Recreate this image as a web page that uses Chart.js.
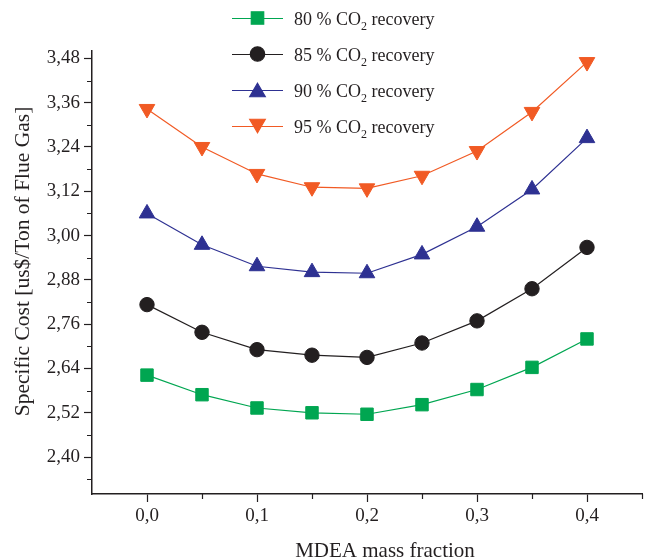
<!DOCTYPE html>
<html>
<head>
<meta charset="utf-8">
<script src="https://cdn.jsdelivr.net/npm/chart.js@4.4.1/dist/chart.umd.min.js"></script>
<style>
    html, body { margin: 0; padding: 0; background: #fff; }
    #wrap { width: 649px; height: 558px; }
</style>
</head>
<body>
<div id="wrap"><canvas id="myChart"></canvas></div>
<script>
// MDEA mass fraction (x) and specific cost per CO2 recovery level
const mdeaFraction = [0.0, 0.05, 0.1, 0.15, 0.2, 0.25, 0.3, 0.35, 0.4];
const recovery80 = [2.622, 2.569, 2.533, 2.520, 2.516, 2.542, 2.583, 2.643, 2.720];
const recovery85 = [2.813, 2.738, 2.691, 2.676, 2.670, 2.709, 2.769, 2.856, 2.968];
const recovery90 = [3.060, 2.975, 2.917, 2.901, 2.898, 2.949, 3.024, 3.125, 3.264];
const recovery95 = [3.343, 3.240, 3.167, 3.131, 3.128, 3.162, 3.229, 3.335, 3.470];
const seriesLabels = ['80 % CO₂ recovery', '85 % CO₂ recovery', '90 % CO₂ recovery', '95 % CO₂ recovery'];

// tick labels
const xMajorTicks = [0.0, 0.1, 0.2, 0.3, 0.4];
const xMinorTicks = [0.05, 0.15, 0.25, 0.35, 0.45];
const yMajorTicks = [2.40, 2.52, 2.64, 2.76, 2.88, 3.00, 3.12, 3.24, 3.36, 3.48];
const yMinorTicks = [2.34, 2.46, 2.58, 2.70, 2.82, 2.94, 3.06, 3.18, 3.30, 3.42];

const xTitle = 'MDEA mass fraction';
const yTitle = 'Specific Cost [us$/Ton of Flue Gas]';

const FONT = '"Liberation Serif", "Times New Roman", serif';
const INK = '#231f20';

function toPoints(values) {
    return mdeaFraction.map((x, i) => ({ x: x, y: values[i] }));
}
function commaNum(v, digits) {
    return v.toFixed(digits).replace('.', ',');
}

// minor tick marks (shorter than the major ones)
const minorTicksPlugin = {
    id: 'minorTicks',
    afterDraw(chart) {
        const ctx = chart.ctx;
        const xs = chart.scales.x;
        const ys = chart.scales.y;
        const area = chart.chartArea;
        ctx.save();
        ctx.strokeStyle = INK;
        ctx.lineWidth = 1.2;
        ctx.beginPath();
        xMinorTicks.forEach(v => {
            const px = Math.round(xs.getPixelForValue(v)) + 0.5;
            ctx.moveTo(px, area.bottom);
            ctx.lineTo(px, area.bottom + 5);
        });
        yMinorTicks.forEach(v => {
            const py = Math.round(ys.getPixelForValue(v)) + 0.5;
            ctx.moveTo(area.left, py);
            ctx.lineTo(area.left - 5, py);
        });
        ctx.stroke();
        ctx.restore();
    }
};

// axis titles, placed a bit off-centre like in the original figure
const axisTitlesPlugin = {
    id: 'axisTitles',
    afterDraw(chart) {
        const ctx = chart.ctx;
        const area = chart.chartArea;
        ctx.save();
        ctx.fillStyle = INK;
        ctx.font = '21px ' + FONT;
        ctx.textAlign = 'center';
        ctx.textBaseline = 'alphabetic';
        ctx.fillText(xTitle, (area.left + area.right) / 2 + 18, chart.height - 1);

        ctx.translate(29, (area.top + area.bottom) / 2 - 11);
        ctx.rotate(-Math.PI / 2);
        ctx.font = '21.5px ' + FONT;
        ctx.fillText(yTitle, 0, 0);
        ctx.restore();
    }
};

// legend stacked at the top centre, with subscript in CO2
const legendPlugin = {
    id: 'stackedLegend',
    afterDraw(chart) {
        const ctx = chart.ctx;
        const lineX0 = 232, lineX1 = 283, textX = 294;
        const top = 18, step = 36;
        chart.data.datasets.forEach((ds, i) => {
            const y = top + i * step;
            ctx.save();
            ctx.strokeStyle = ds.borderColor;
            ctx.lineWidth = ds.borderWidth;
            ctx.beginPath();
            ctx.moveTo(lineX0, y + 0.5);
            ctx.lineTo(lineX1, y + 0.5);
            ctx.stroke();

            let my = y;
            if (ds.pointStyle === 'triangle') {
                my = ds.pointRotation === 180 ? y - ds.pointRadius / 4 : y + ds.pointRadius / 4;
            }
            ctx.fillStyle = ds.pointBackgroundColor;
            ctx.strokeStyle = ds.pointBorderColor;
            Chart.helpers.drawPoint(ctx, {
                pointStyle: ds.pointStyle,
                rotation: ds.pointRotation || 0,
                radius: ds.pointRadius,
                borderWidth: 1
            }, (lineX0 + lineX1) / 2, my);

            const parts = ds.label.split('₂');
            const base = y + 7;
            ctx.fillStyle = INK;
            ctx.textBaseline = 'alphabetic';
            ctx.textAlign = 'left';
            ctx.font = '18px ' + FONT;
            ctx.fillText(parts[0], textX, base);
            let x = textX + ctx.measureText(parts[0]).width;
            ctx.font = '12px ' + FONT;
            ctx.fillText('2', x, base + 5);
            x += ctx.measureText('2').width;
            ctx.font = '18px ' + FONT;
            ctx.fillText(parts[1], x, base);
            ctx.restore();
        });
    }
};

function makeDataset(label, values, color, style, radius, rotation) {
    return {
        label: label,
        data: toPoints(values),
        borderColor: color,
        backgroundColor: color,
        borderWidth: 1.2,
        pointStyle: style,
        pointRadius: radius,
        pointHoverRadius: radius,
        pointRotation: rotation,
        pointBackgroundColor: color,
        pointBorderColor: color,
        pointBorderWidth: 1,
        tension: 0
    };
}

const axisGrid = {
    display: true,
    drawOnChartArea: false,
    drawTicks: true,
    tickLength: 8,
    tickColor: INK,
    tickWidth: 1.2
};

const ctx = document.getElementById('myChart');
new Chart(ctx, {
    type: 'line',
    data: {
        datasets: [
            makeDataset(seriesLabels[0], recovery80, '#00a651', 'rect', 8.8, 0),
            makeDataset(seriesLabels[1], recovery85, INK, 'circle', 7.2, 0),
            makeDataset(seriesLabels[2], recovery90, '#2e3192', 'triangle', 9, 0),
            makeDataset(seriesLabels[3], recovery95, '#f15a24', 'triangle', 9, 180)
        ]
    },
    options: {
        responsive: true,
        maintainAspectRatio: false,
        animation: false,
        layout: {
            autoPadding: false,
            padding: { top: 51, right: 7, left: 0, bottom: 0 }
        },
        plugins: {
            legend: { display: false },
            tooltip: { enabled: false }
        },
        scales: {
            x: {
                type: 'linear',
                min: -0.05,
                max: 0.45,
                afterBuildTicks: (scale) => {
                    scale.ticks = xMajorTicks.map(v => ({ value: v }));
                },
                afterFit: (scale) => { scale.height = 64; },
                ticks: {
                    color: INK,
                    padding: 3,
                    maxRotation: 0,
                    font: { family: FONT, size: 19 },
                    callback: (v) => commaNum(v, 1)
                },
                grid: axisGrid,
                border: { display: true, color: INK, width: 1.5 }
            },
            y: {
                type: 'linear',
                min: 2.30,
                max: 3.50,
                afterBuildTicks: (scale) => {
                    scale.ticks = yMajorTicks.map(v => ({ value: v }));
                },
                afterFit: (scale) => { scale.width = 92; },
                ticks: {
                    color: INK,
                    padding: 4,
                    font: { family: FONT, size: 19 },
                    callback: (v) => commaNum(v, 2)
                },
                grid: axisGrid,
                border: { display: true, color: INK, width: 1.5 }
            }
        }
    },
    plugins: [minorTicksPlugin, axisTitlesPlugin, legendPlugin]
});
</script>
</body>
</html>
